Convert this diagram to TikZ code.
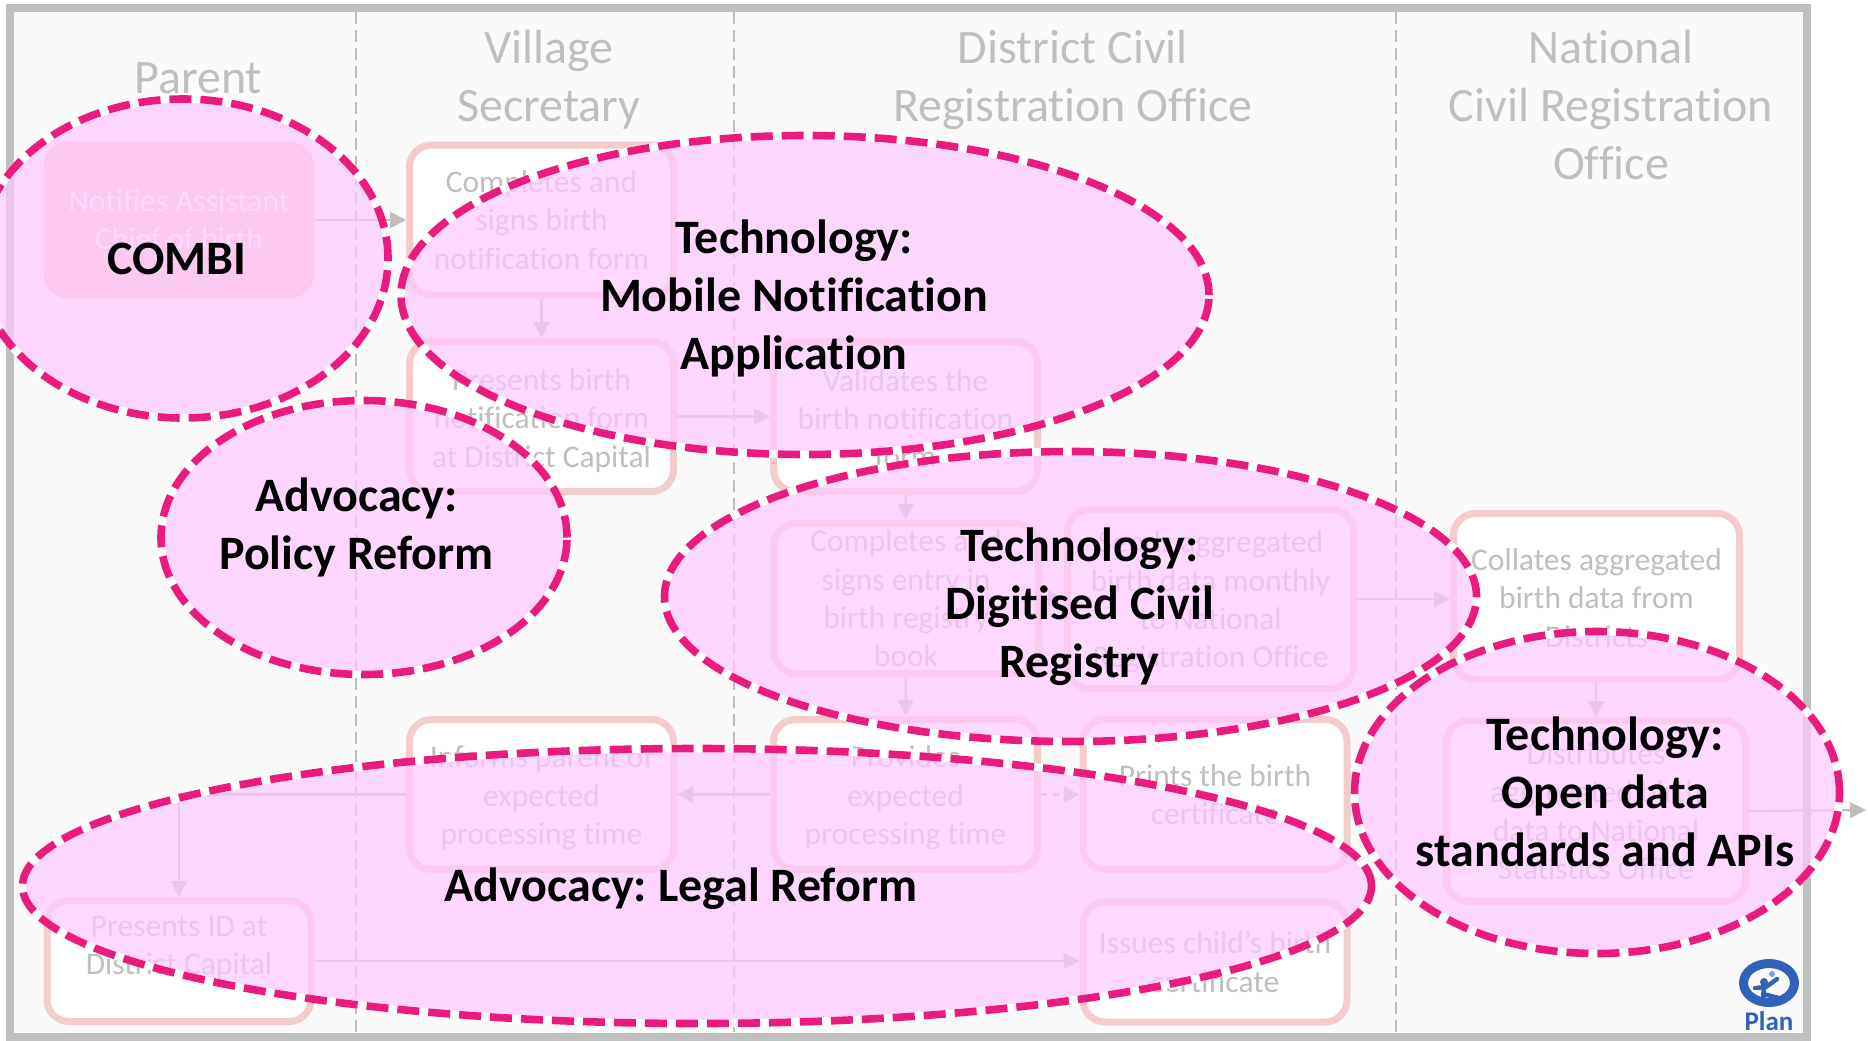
\documentclass[tikz,border=0pt]{standalone}
\usepackage{fontspec}
\setmainfont{Carlito}[Ligatures=NoCommon]
\usetikzlibrary{arrows.meta,shapes.geometric}

\definecolor{framegray}{HTML}{BFBFBF}
\definecolor{panelgray}{HTML}{FAFAFA}
\definecolor{boxpink}{HTML}{F5CCCC}
\definecolor{ovalfill}{HTML}{FFC8FF}
\definecolor{ovaldash}{HTML}{EA1A7F}
\definecolor{planblue}{HTML}{2F62B8}

\newcommand{\droptext}[1]{\rule{0pt}{#1}}

\tikzset{
    procbox/.style={draw=boxpink, line width=3.5pt, fill=white, rounded corners=11pt,
        minimum width=132pt, minimum height=75pt, inner sep=0pt, align=center,
        text=framegray, font=\fontsize{15.75}{19.2}\selectfont},
    headlabel/.style={align=center, inner sep=0pt, text=framegray,
        font=\fontsize{24}{29}\selectfont},
    flow/.style={draw=framegray, line width=1.1pt, -{Triangle[length=8pt,width=8pt]}},
    oval/.style={ellipse, preaction={fill=ovalfill, fill opacity=.7},
        preaction={draw=white, solid}, draw=ovaldash, line width=3.8pt,
        dash pattern=on 11pt off 4.5pt, inner sep=0pt},
    ovallabel/.style={align=center, inner sep=0pt, text=black,
        font=\fontsize{24}{29}\selectfont\bfseries}
}

\begin{document}
\frenchspacing
\begin{tikzpicture}[x=0.5pt, y=-0.5pt]
        \useasboundingbox (0,0) rectangle (1868,1040);
        \draw[fill=panelgray, draw=framegray, line width=4pt] (10,8) rectangle (1807,1037);

        % lanes
        \foreach \x in {356,734,1396}
            \draw[framegray, line width=1pt, dash pattern=on 6pt off 3pt] (\x,12) -- (\x,1033);

        % headers
        \node[headlabel] (parent) at (198,78) {Parent};
        \node[headlabel] (village) at (549,79.5) {Village\\Secretary};
        \node[headlabel] (district) at (1073,79.5) {District Civil\\Registration Office};
        \node[headlabel] (national) at (1611,105) {National\\Civil Registration\\Office};

        % boxes
        \node[procbox, fill=boxpink, text=white] (notifies) at (179,220) {Notifies Assistant\\Chief of birth};
        \node[procbox] (completes) at (541.5,220) {Completes and\\signs birth\\notification form};
        \node[procbox] (presents) at (541.5,416.5) {\droptext{15pt}Presents birth\\notification form\\at District Capital};
        \node[procbox] (validates) at (905.5,416.5) {\droptext{13pt}Validates the\\birth notification\\form};
        \node[procbox, minimum height=75pt] (entry) at (906,598.5) {Completes and\\signs entry in\\birth registry\\book};
        \node[procbox, minimum width=143pt, minimum height=89.5pt] (sends) at (1210.5,599) {\droptext{14pt}Sends aggregated\\birth data monthly\\to National\\Registration Office};
        \node[procbox, minimum width=143pt, minimum height=83pt] (collates) at (1596.5,596.5) {\droptext{12.5pt}Collates aggregated\\birth data from\\Districts};
        \node[procbox] (informs) at (541.5,794.5) {\droptext{14.5pt}Informs parent of\\expected\\processing time};
        \node[procbox] (provides) at (905.5,794.5) {\droptext{14.5pt}Provides\\expected\\processing time};
        \node[procbox] (prints) at (1215,794.5) {Prints the birth\\certificate};
        \node[procbox, minimum width=149.5pt, minimum height=90.5pt] (distributes) at (1596,811) {Distributes\\aggregated birth\\data to National\\Statistics Office};
        \node[procbox, minimum height=60.5pt] (presentsid) at (179,961) {\droptext{13.5pt}Presents ID at\\District Capital\\\mbox{}};
        \node[procbox, minimum height=60pt] (issues) at (1215,962) {Issues child’s birth\\certificate};

        % arrows
        \coordinate (exit) at (1866,810);
        \draw[flow] (notifies) -- (completes);
        \draw[flow] (completes) -- (presents);
        \draw[flow] (presents) -- (validates);
        \draw[flow] (validates) -- (entry);
        \draw[flow] (entry.east) -- (entry.east -| sends.west);
        \draw[flow] (entry) -- (provides);
        \draw[flow] (sends.east) -- (sends.east -| collates.west);
        \draw[flow] (collates) -- (distributes);
        \draw[flow] (distributes.east) -- (exit);
        \draw[flow] (provides) -- (informs);
        \draw[flow, dashed] (provides) -- (prints);
        \draw[flow] (informs.west) -| (presentsid.north);
        \draw[flow] (presentsid.east) -- (presentsid.east -| issues.west);

        % logo
        \node[draw=planblue, line width=4.5pt, ellipse, minimum width=25.5pt, minimum height=19.5pt, inner sep=0pt] (planring) at (1769,983) {};
        \fill[planblue] (1764,982) circle (4);
        \draw[planblue, line width=2.2pt, line cap=round] (1755,988) -- (1766,987) -- (1777,979)
            (1764,985) -- (1763,1002) (1763,994) -- (1783,999);
        \fill[planblue!60] (1772,974) circle (3);
        \node[text=planblue, inner sep=0pt, font=\fontsize{13.5}{14}\selectfont\bfseries] (planname) at (1769,1021) {Plan};

        % ovals
        \node[oval, minimum width=205pt, minimum height=159.5pt] (combi) at (183,258.5) {};
        \node[oval, minimum width=203pt, minimum height=137pt] (policy) at (364,537.5) {};
        \node[oval, minimum width=404pt, minimum height=159.5pt] (mobile) at (805,295) {};
        \node[oval, minimum width=406pt, minimum height=145pt] (digitised) at (1070.5,596.5) {};
        \node[oval, minimum width=674.5pt, minimum height=137.5pt] (legal) at (697,886) {};
        \node[oval, minimum width=242.5pt, minimum height=161pt] (opendata) at (1597,792.5) {};

        % labels
        \node[ovallabel] (combitext) at (177,259) {COMBI};
        \node[ovallabel] (policytext) at (356.5,527) {Advocacy:\\Policy Reform};
        \node[ovallabel] (mobiletext) at (794,298) {Technology:\\Mobile Notification\\Application};
        \node[ovallabel] (digitisedtext) at (1079.5,607) {Technology:\\Digitised Civil\\Registry};
        \node[ovallabel] (legaltext) at (681,889) {Advocacy: Legal Reform};
        \node[ovallabel] (opendatatext) at (1605,792) {Technology:\\Open data\\standards and APIs};
\end{tikzpicture}
\end{document}
